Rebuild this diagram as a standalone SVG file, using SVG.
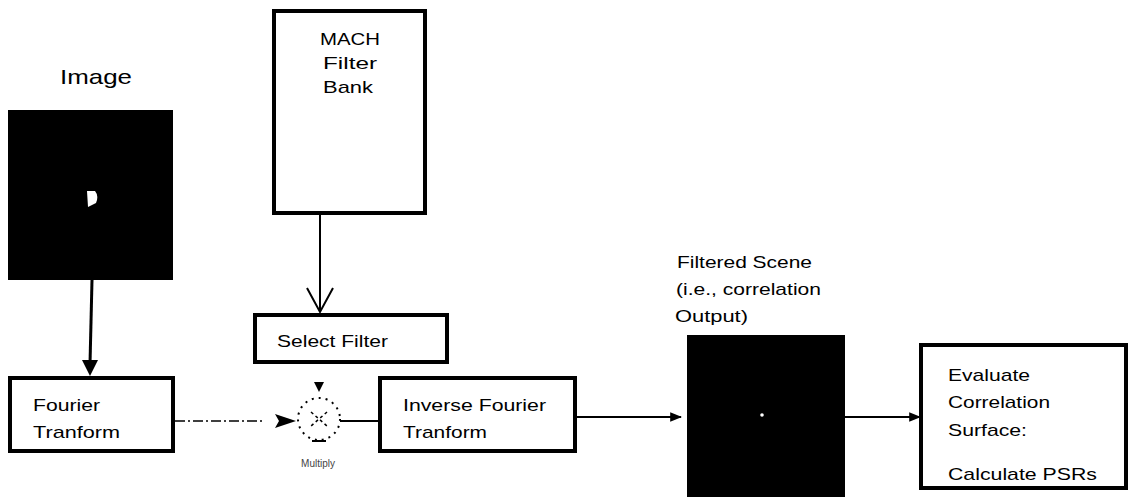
<svg xmlns="http://www.w3.org/2000/svg" width="1130" height="497" viewBox="0 0 1130 497">
<style>
text{font-family:"Liberation Sans",Arial,sans-serif;fill:#000}
.lbl{font-size:17px}
.box{fill:#fff;stroke:#000;stroke-width:4}
.ln{stroke:#000;stroke-width:2;fill:none}
</style>
<defs>
<marker id="ah" viewBox="0 0 10 10" refX="9" refY="5" markerWidth="12" markerHeight="12" markerUnits="userSpaceOnUse" orient="auto">
<path d="M0,1 L10,5 L0,9 Z" fill="#000"/>
</marker>
</defs>
<rect width="1130" height="497" fill="#fff"/>

<g id="image">
<text x="60" y="84" textLength="72" lengthAdjust="spacingAndGlyphs" style="font-size:21px">Image</text>
<rect x="8" y="110" width="165" height="170" fill="#000"/>
<path d="M87,191 L95,191 Q99,196 96,203 L88,207 Z" fill="#fff"/>
</g>

<g id="mach">
<rect class="box" x="274" y="11" width="151" height="202"/>
<text class="lbl" x="350" y="45" text-anchor="middle" textLength="60" lengthAdjust="spacingAndGlyphs">MACH</text>
<text class="lbl" x="350" y="69" text-anchor="middle" textLength="54" lengthAdjust="spacingAndGlyphs">Filter</text>
<text class="lbl" x="348" y="93" text-anchor="middle" textLength="50" lengthAdjust="spacingAndGlyphs">Bank</text>
</g>

<g id="select">
<rect class="box" x="255" y="315" width="192" height="47"/>
<text class="lbl" x="277" y="347" textLength="111" lengthAdjust="spacingAndGlyphs">Select Filter</text>
</g>

<g id="fourier">
<rect class="box" x="10" y="378" width="163" height="73"/>
<text class="lbl" x="33" y="411" textLength="67" lengthAdjust="spacingAndGlyphs">Fourier</text>
<text class="lbl" x="33" y="438" textLength="87" lengthAdjust="spacingAndGlyphs">Tranform</text>
</g>

<g id="multiply">
<circle cx="319" cy="419" r="21" fill="none" stroke="#000" stroke-width="2" stroke-dasharray="2,5"/>
<path d="M311,412 L327,426 M327,412 L311,426" stroke="#000" stroke-width="1.5" stroke-dasharray="3,3"/>
<path d="M314,382 L324,382 L319,392 Z" fill="#000"/>
<line x1="312" y1="441" x2="326" y2="441" stroke="#000" stroke-width="2"/>
<text x="318" y="467" text-anchor="middle" style="font-size:10px;fill:#444">Multiply</text>
</g>

<g id="inverse">
<rect class="box" x="380" y="378" width="195" height="73"/>
<text class="lbl" x="403" y="411" textLength="143" lengthAdjust="spacingAndGlyphs">Inverse Fourier</text>
<text class="lbl" x="403" y="438" textLength="84" lengthAdjust="spacingAndGlyphs">Tranform</text>
</g>

<g id="filtered">
<text class="lbl" x="677" y="268" textLength="135" lengthAdjust="spacingAndGlyphs">Filtered Scene</text>
<text class="lbl" x="676" y="295" textLength="145" lengthAdjust="spacingAndGlyphs">(i.e., correlation</text>
<text class="lbl" x="675" y="322" textLength="73" lengthAdjust="spacingAndGlyphs">Output)</text>
<rect x="687" y="335" width="158" height="162" fill="#000"/>
<circle cx="762" cy="415" r="1.8" fill="#fff"/>
</g>

<g id="evaluate">
<rect class="box" x="921" y="345" width="205" height="143"/>
<text class="lbl" x="948" y="381" textLength="82" lengthAdjust="spacingAndGlyphs">Evaluate</text>
<text class="lbl" x="948" y="408" textLength="102" lengthAdjust="spacingAndGlyphs">Correlation</text>
<text class="lbl" x="948" y="436" textLength="79" lengthAdjust="spacingAndGlyphs">Surface:</text>
<text class="lbl" x="948" y="480" textLength="149" lengthAdjust="spacingAndGlyphs">Calculate PSRs</text>
</g>

<g id="connectors">
<line x1="92" y1="280" x2="90" y2="364" stroke="#000" stroke-width="3"/>
<path d="M82,360 L98,360 L90,376 Z" fill="#000"/>
<line class="ln" x1="320" y1="213" x2="320" y2="312" stroke-width="2.5"/>
<path class="ln" d="M307,288 L320,312 L333,288" stroke-width="2.5"/>
<line x1="175" y1="421" x2="262" y2="421" stroke="#000" stroke-width="1.5" stroke-dasharray="10,3,2,3"/>
<path d="M275,414 L296,421 L275,428 L279,421 Z" fill="#000"/>
<line class="ln" x1="340" y1="421" x2="379" y2="421"/>
<line class="ln" x1="576" y1="417" x2="681" y2="417" marker-end="url(#ah)"/>
<line class="ln" x1="845" y1="417" x2="920" y2="417" marker-end="url(#ah)"/>
</g>
</svg>
